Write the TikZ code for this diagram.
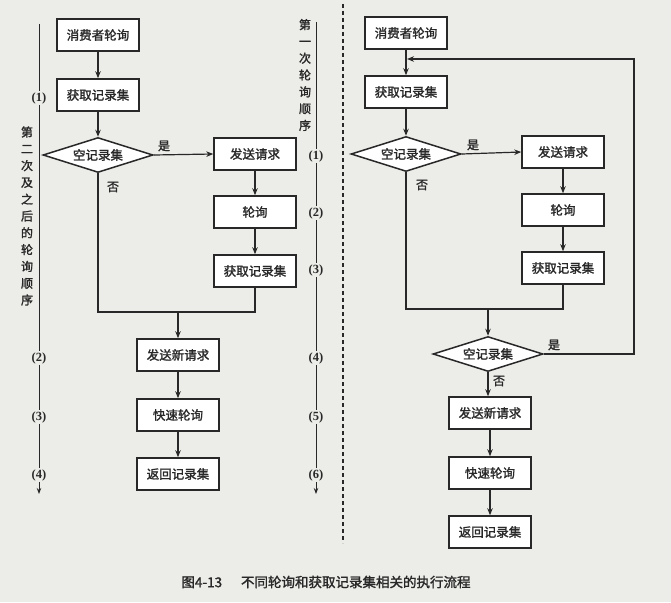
\documentclass[tikz,border=0pt]{standalone}
\usepackage{fontspec}
\setmainfont{Liberation Serif}
\newfontfamily\cjk[FakeBold=1.6]{Noto Sans CJK SC}
\usetikzlibrary{arrows.meta,shapes.geometric}
\definecolor{paper}{RGB}{236,236,232}
\definecolor{ink}{RGB}{40,40,40}
\begin{document}
\begin{tikzpicture}[x=1pt,y=-1pt,
  box/.style={draw=ink, line width=1.5pt, fill=white, minimum width=82pt, minimum height=32pt, inner sep=0pt, font=\cjk\fontsize{12.5}{14}\selectfont, text=ink},
  dia/.style={diamond, draw=ink, line width=1.5pt, fill=white, minimum width=110pt, minimum height=35pt, inner sep=0pt, aspect=3, font=\cjk\fontsize{12.5}{14}\selectfont, text=ink},
  arr/.style={draw=ink, line width=1.2pt, -{Stealth[length=7pt,width=5.5pt]}},
  ln/.style={draw=ink, line width=1.2pt},
  side/.style={draw=ink, line width=1pt},
  sidearr/.style={draw=ink, line width=1pt, -{Stealth[length=6pt,width=4.5pt]}},
  num/.style={font=\bfseries\fontsize{12.5}{14}\selectfont, inner sep=1pt, text=ink},
  lab/.style={font=\cjk\fontsize{12}{14}\selectfont, inner sep=0pt, text=ink},
  vtext/.style={font=\cjk\fontsize{12}{16.8}\selectfont, align=center, inner sep=0pt, text=ink},
]
\fill[paper] (0,0) rectangle (671,602);
\useasboundingbox (0,0) rectangle (671,602);

% ---------------- left chart ----------------
\node[box] (L1) at (98,35) {消费者轮询};
\node[box] (L2) at (98,95) {获取记录集};
\node[dia] (LD) at (98,155) {空记录集};
\node[box] (L3) at (255,154) {发送请求};
\node[box] (L4) at (255,212) {轮询};
\node[box] (L5) at (255,271) {获取记录集};
\coordinate (jL) at (178,312);
\node[box] (L6) at (178,355) {发送新请求};
\node[box] (L7) at (178,415) {快速轮询};
\node[box] (L8) at (178,474) {返回记录集};

\draw[arr] (L1) -- (L2);
\draw[arr] (L2) -- (LD);
\draw[arr] (LD.east) -- (L3.west);
\draw[arr] (L3) -- (L4);
\draw[arr] (L4) -- (L5);
\draw[ln] (LD.south) |- (jL);
\draw[ln] (L5.south) |- (jL);
\draw[arr] (jL) -- (L6);
\draw[arr] (L6) -- (L7);
\draw[arr] (L7) -- (L8);
\node[lab] (Lyes) at (164,146) {是};
\node[lab] (Lno) at (113,187) {否};

% left side sequence
\node[vtext] (Lv) at (27,216) {第\\二\\次\\及\\之\\后\\的\\轮\\询\\顺\\序};
\coordinate (Ltop) at (39,24);
\node[num] (Ln1) at (39,98) {(1)};
\node[num] (Ln2) at (39,358) {(2)};
\node[num] (Ln3) at (39,417) {(3)};
\node[num] (Ln4) at (39,475) {(4)};
\coordinate (Lend) at (39,494);
\draw[side] (Ltop) -- (Ln1.north);
\draw[side] (Ln1.south) -- (Ln2.north);
\draw[side] (Ln2.south) -- (Ln3.north);
\draw[side] (Ln3.south) -- (Ln4.north);
\draw[sidearr] (Ln4.south) -- (Lend);

% middle sequence
\node[vtext] (Mv) at (305,75) {第\\一\\次\\轮\\询\\顺\\序};
\coordinate (Mtop) at (316,22);
\node[num] (Mn1) at (316,156) {(1)};
\node[num] (Mn2) at (316,213) {(2)};
\node[num] (Mn3) at (316,270) {(3)};
\node[num] (Mn4) at (316,358) {(4)};
\node[num] (Mn5) at (316,417) {(5)};
\node[num] (Mn6) at (316,475) {(6)};
\coordinate (Mend) at (316,494);
\draw[side] (Mtop) -- (Mn1.north);
\draw[side] (Mn1.south) -- (Mn2.north);
\draw[side] (Mn2.south) -- (Mn3.north);
\draw[side] (Mn3.south) -- (Mn4.north);
\draw[side] (Mn4.south) -- (Mn5.north);
\draw[side] (Mn5.south) -- (Mn6.north);
\draw[sidearr] (Mn6.south) -- (Mend);

% dashed separator
\coordinate (Dtop) at (343,4);
\coordinate (Dbot) at (343,543);
\draw[ink, line width=1.1pt, dash pattern=on 4pt off 3pt] (Dtop) -- (Dbot);

% ---------------- right chart ----------------
\node[box] (R1) at (406,33) {消费者轮询};
\node[box] (R2) at (406,92) {获取记录集};
\node[dia] (RD) at (406,154) {空记录集};
\node[box] (R3) at (563,152) {发送请求};
\node[box] (R4) at (563,210) {轮询};
\node[box] (R5) at (563,268) {获取记录集};
\coordinate (jR) at (488,309);
\node[dia] (RD2) at (488,354) {空记录集};
\node[box] (R6) at (490,413) {发送新请求};
\node[box] (R7) at (490,473) {快速轮询};
\node[box] (R8) at (490,532) {返回记录集};
\coordinate (loopT) at (634,59);
\coordinate (entry) at (407,59);

\draw[arr] (R1) -- (R2);
\draw[arr] (R2) -- (RD);
\draw[arr] (RD.east) -- (R3.west);
\draw[arr] (R3) -- (R4);
\draw[arr] (R4) -- (R5);
\draw[ln] (RD.south) |- (jR);
\draw[ln] (R5.south) |- (jR);
\draw[arr] (jR) -- (RD2.north);
\draw[arr] (RD2.east) -| (loopT) -- (entry);
\draw[arr] (RD2.south) -- (RD2.south |- R6.north);
\draw[arr] (R6) -- (R7);
\draw[arr] (R7) -- (R8);
\node[lab] (Ryes) at (473,145) {是};
\node[lab] (Rno) at (422,185) {否};
\node[lab] (Ryes2) at (554,345) {是};
\node[lab] (Rno2) at (499,381) {否};

% caption
\node[font=\cjk\fontsize{13.5}{16}\selectfont, text=ink, inner sep=0pt] (cap) at (326,582) {图4-13\hspace{1.4em}不同轮询和获取记录集相关的执行流程};
\end{tikzpicture}
\end{document}
